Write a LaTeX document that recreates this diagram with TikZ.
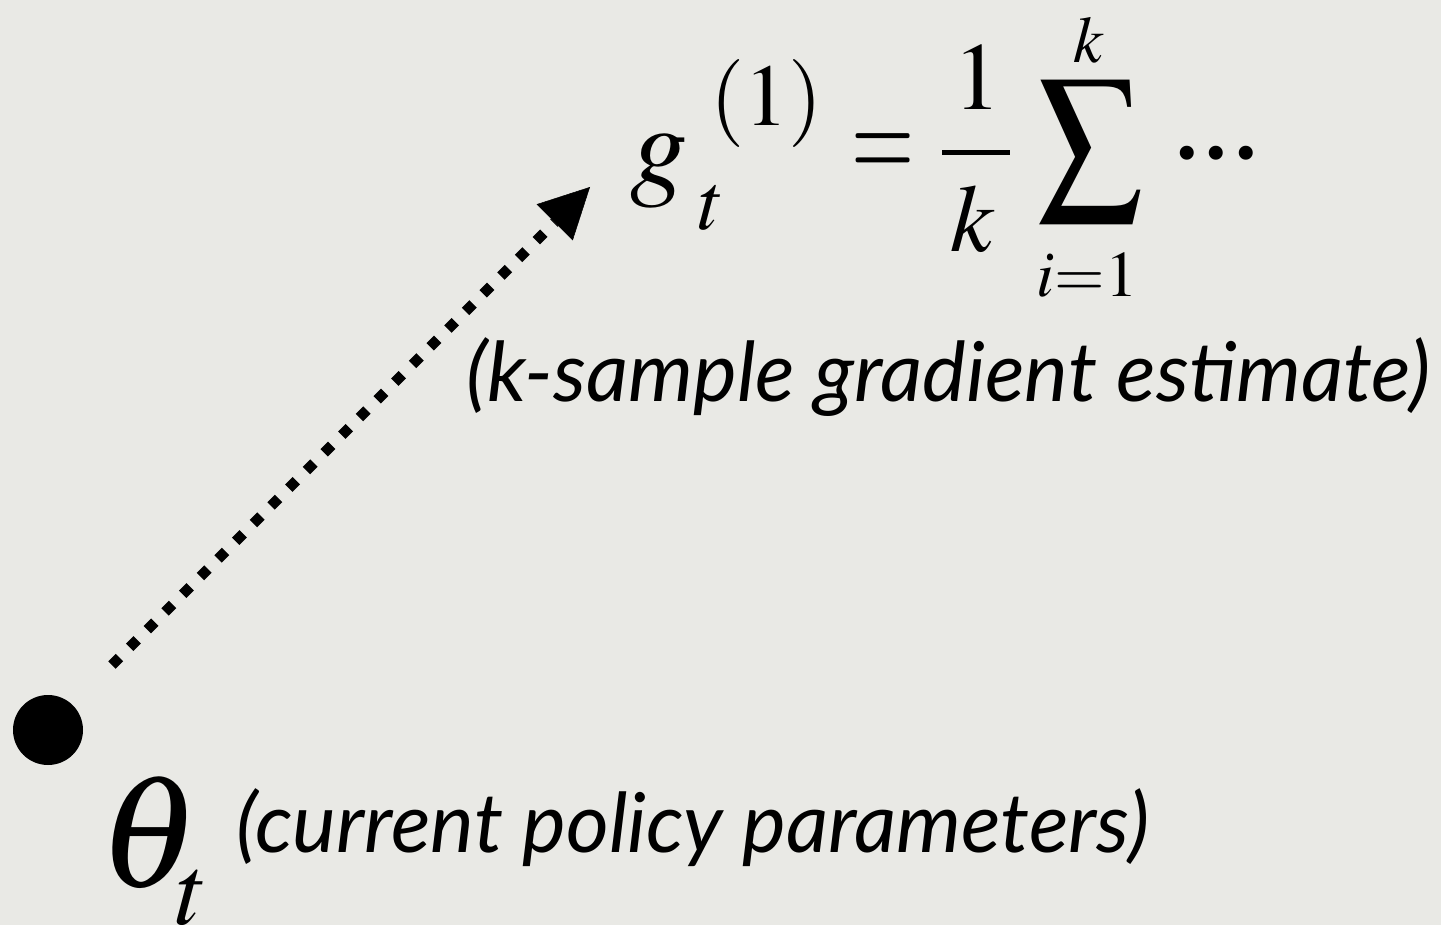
\documentclass[tikz,border=0pt]{standalone}
\usepackage{mathptmx}
\usepackage[no-math]{fontspec}
\usepackage{graphicx}
\usetikzlibrary{arrows.meta}
\newfontfamily\lato{Lato}
\newfontfamily\tnr{Liberation Serif}
\definecolor{bg}{RGB}{233,233,229}
\begin{document}
\begin{tikzpicture}[x=1pt,y=-1pt,
  every node/.style={inner sep=0pt, outer sep=0pt},
  lbl/.style={anchor=base west, font=\lato\itshape\fontsize{82.5}{90}\selectfont},
  ms/.style={font=\fontsize{#1}{#1}\selectfont},
  dotarrow/.style={line width=10.6pt, dash pattern=on 10.6pt off 14.4pt,
    -{Triangle[length=50pt,width=51pt,line width=0.5pt]}}]
\fill[bg] (0,0) rectangle (1441,925);
\useasboundingbox (0,0) rectangle (1441,925);
% current parameters
\node[circle, fill=black, minimum size=70pt] (theta0) at (48,730) {};
\node[ms=160, anchor=base west] (theta) at (98,886) {$\theta$};
\node[ms=100, anchor=base west] (thetasub) at (176,924) {$t$};
\node[lbl] (curlbl) at (236,852) {(current policy parameters)};
% gradient estimate
\node[ms=115, anchor=base west] (g) at (630,185) {$g$};
\node[ms=81, anchor=base west] (gsub) at (699,230) {$t$};
\node[ms=88, anchor=base west] (gsup) at (710,126) {$(1)$};
\node[ms=125, anchor=base west] (eq) at (851,180) {\scalebox{0.65}[1]{$=$}};
\node[ms=96, anchor=base west] (num) at (953,110) {$1$};
\node[anchor=center] (bar) at (976,153) {\rule{68pt}{5pt}};
\node[ms=96, anchor=base west] (den) at (950,252) {$k$};
\node[anchor=north west] (sum) at (1037,80) {\resizebox*{106pt}{142pt}{$\displaystyle\sum$}};
\node[ms=66, anchor=base] (sumtop) at (1089,63) {$k$};
\node[ms=65, anchor=base] (sumbot) at (1087,297) {$i{=}1$};
\node[anchor=base west] (dots) at (1172,159) {\tnr\fontsize{118}{118}\selectfont ...};
\node[lbl] (estlbl) at (466,402) {(k-sample gradient estimate)};
% arrow
\coordinate (s) at (112,665);
\coordinate (e) at (590,187);
\draw[dotarrow] (s) -- (e);
\end{tikzpicture}
\end{document}
